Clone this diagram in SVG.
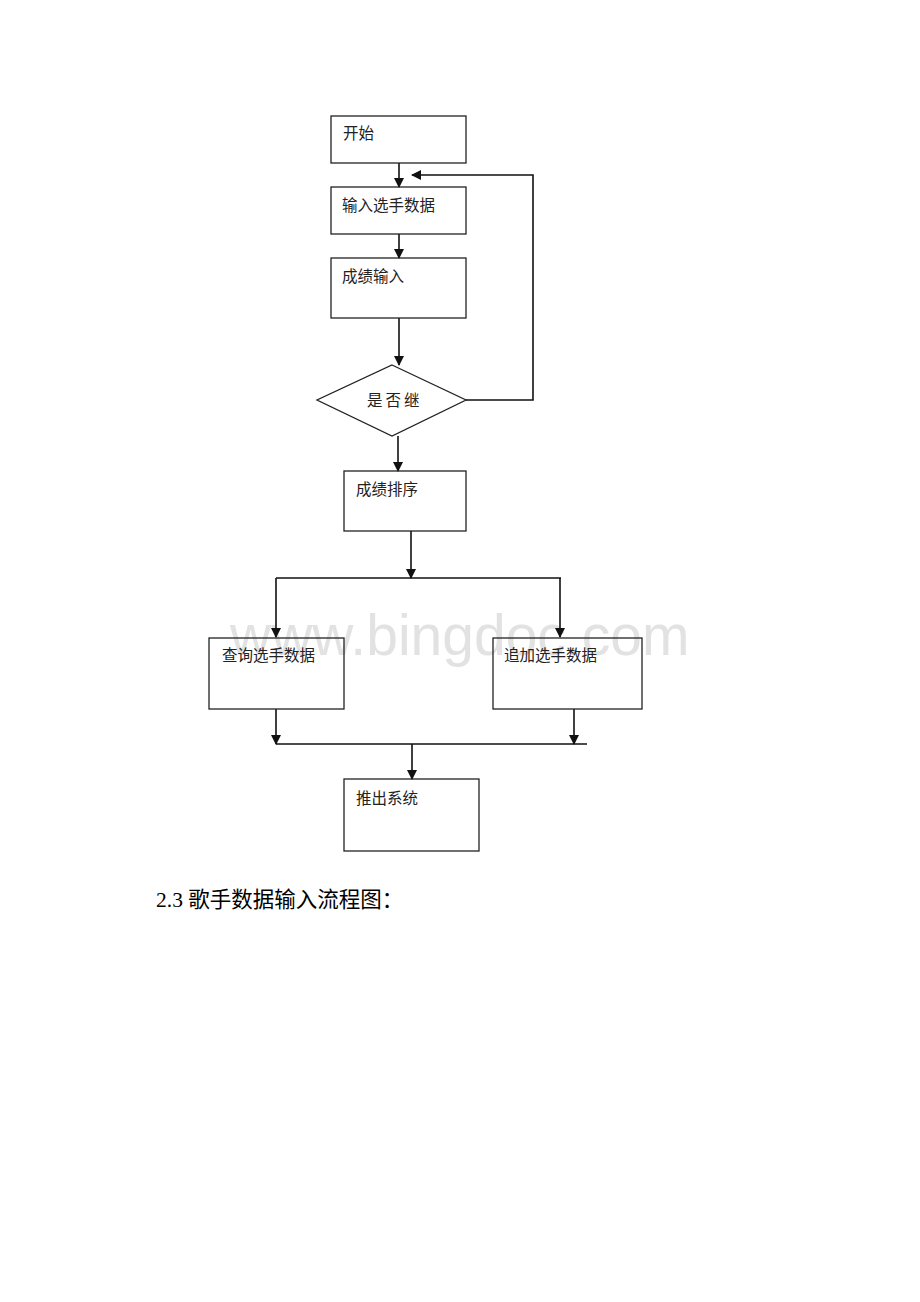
<svg xmlns="http://www.w3.org/2000/svg" width="920" height="1302" viewBox="0 0 920 1302">
<style>
.box{fill:none;stroke:#222;stroke-width:1.3}
.ln{fill:none;stroke:#111;stroke-width:1.6}
.t{font-family:"Liberation Serif","Noto Sans CJK SC",serif;font-size:15.5px;fill:#222}
.wm{font-family:"Liberation Sans",Arial,sans-serif;font-size:57px;fill:#e2e2e2}
.h{font-family:"Liberation Serif","Noto Sans CJK SC",serif;font-size:21.5px;fill:#000}
</style>
<defs>
<marker id="ah" markerWidth="10" markerHeight="10" refX="9" refY="5" orient="auto" markerUnits="userSpaceOnUse">
<path d="M0,0 L10,5 L0,10 Z" fill="#111"/>
</marker>
</defs>
<rect width="920" height="1302" fill="#fff"/>
<text class="wm" x="230" y="655">www.bingdoc.com</text>
<g id="connectors">
<line class="ln" x1="399" y1="163" x2="399" y2="187" marker-end="url(#ah)"/>
<line class="ln" x1="399" y1="234" x2="399" y2="258" marker-end="url(#ah)"/>
<line class="ln" x1="399" y1="318" x2="399" y2="365" marker-end="url(#ah)"/>
<polyline class="ln" points="466,400 533,400 533,175 412,175" marker-end="url(#ah)"/>
<line class="ln" x1="398" y1="436" x2="398" y2="471" marker-end="url(#ah)"/>
<line class="ln" x1="411" y1="531" x2="411" y2="578" marker-end="url(#ah)"/>
<line class="ln" x1="276" y1="578" x2="561" y2="578"/>
<line class="ln" x1="276" y1="578" x2="276" y2="637" marker-end="url(#ah)"/>
<line class="ln" x1="560" y1="578" x2="560" y2="637" marker-end="url(#ah)"/>
<line class="ln" x1="276" y1="709" x2="276" y2="744" marker-end="url(#ah)"/>
<line class="ln" x1="574" y1="709" x2="574" y2="744" marker-end="url(#ah)"/>
<line class="ln" x1="276" y1="744" x2="587" y2="744"/>
<line class="ln" x1="412" y1="744" x2="412" y2="779" marker-end="url(#ah)"/>
</g>
<g id="n1"><rect class="box" x="331" y="116" width="135" height="47"/><text class="t" x="343" y="139">开始</text></g>
<g id="n2"><rect class="box" x="331" y="187" width="135" height="47"/><text class="t" x="342" y="211">输入选手数据</text></g>
<g id="n3"><rect class="box" x="331" y="258" width="135" height="60"/><text class="t" x="342" y="282">成绩输入</text></g>
<g id="n4"><polygon class="box" points="392,365 466,400 392,436 317,400"/><text class="t" x="367" y="406" style="letter-spacing:3px">是否继</text></g>
<g id="n5"><rect class="box" x="344" y="471" width="122" height="60"/><text class="t" x="356" y="495">成绩排序</text></g>
<g id="n6"><rect class="box" x="209" y="638" width="135" height="71"/><text class="t" x="222" y="661">查询选手数据</text></g>
<g id="n7"><rect class="box" x="493" y="638" width="149" height="71"/><text class="t" x="504" y="661">追加选手数据</text></g>
<g id="n8"><rect class="box" x="344" y="779" width="135" height="72"/><text class="t" x="356" y="804">推出系统</text></g>
<text class="h" x="156" y="907">2.3 歌手数据输入流程图：</text>
</svg>
